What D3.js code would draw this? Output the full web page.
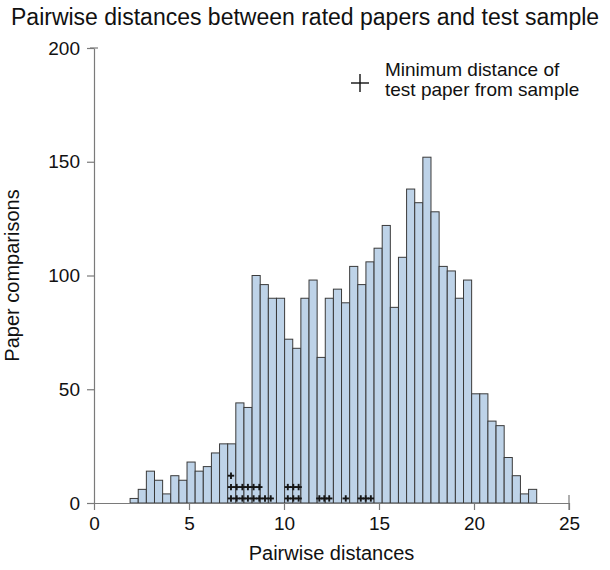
<!DOCTYPE html>
<html>
<head>
<meta charset="utf-8">
<script src="https://cdn.jsdelivr.net/npm/d3@7"></script>
<style>
  body { margin: 0; background: #fff; }
  text { font-family: Helvetica, Arial, "Liberation Sans", sans-serif; fill: #111; }
</style>
</head>
<body>
<svg id="chart" width="610" height="570"></svg>
<script>

// histogram of pairwise distances, 50 bins
const bin_start = 1.9;
const bin_width = 0.428;
const bin_counts = [2,6,14,10,4,12,10,18,14,16,
                    22,26,26,44,42,100,96,90,90,72,
                    68,90,98,64,90,94,88,104,96,106,
                    112,122,86,108,138,132,152,128,104,102,
                    90,98,48,48,36,34,20,12,4,6];

// minimum distance of each test paper, stacked where they coincide
const marker_dist  = [7.21,7.51,7.81,8.1,8.4,8.7,9.0,9.3,10.2,10.49,10.77,11.86,12.12,12.38,13.25,14.04,14.3,14.57];
const marker_stack = [3,2,2,2,2,2,1,1,2,2,2,1,1,1,1,1,1,1];
const stack_levels = [2,7,12];

const x_ticks = [0,5,10,15,20,25];
const y_ticks = [0,50,100,150,200];

const svg = d3.select('#chart');

const x = d3.scaleLinear().domain([0,25]).range([94,569]);
const y = d3.scaleLinear().domain([0,200]).range([503,48]);

const axis_color = '#7a7a7a';

// bars
svg.append('g').selectAll('rect')
        .data(bin_counts)
        .enter()
    .append('rect')
        .attr('x', (d,i) => x(bin_start + i*bin_width))
        .attr('y', d => y(d))
        .attr('width', (d,i) => x(bin_start + (i+1)*bin_width) - x(bin_start + i*bin_width))
        .attr('height', d => y(0) - y(d))
        .attr('fill','#bed3e8')
        .attr('stroke','#3a3a3a')
        .attr('stroke-width',1);

// markers
var marker_data = [];
marker_dist.forEach(function(v,i){
    for(let k=0; k<marker_stack[i]; k++){ marker_data.push([v, stack_levels[k]]); }
});

const cross = function(g, s){
    g.append('line').attr('x1',-s).attr('x2',s).attr('y1',0).attr('y2',0);
    g.append('line').attr('x1',0).attr('x2',0).attr('y1',-s).attr('y2',s);
};

svg.append('g').selectAll('g')
        .data(marker_data)
        .enter()
    .append('g')
        .attr('transform', d => `translate(${x(d[0])},${y(d[1])})`)
        .attr('stroke','#151515')
        .attr('stroke-width',1.9)
        .each(function(){ cross(d3.select(this), 3.2) });

// axes
const xaxis = svg.append('g')
    .attr('transform',`translate(0,${y(0)})`)
    .call(d3.axisBottom(x).tickValues(x_ticks).tickSize(7).tickSizeOuter(0).tickPadding(7));

const yaxis = svg.append('g')
    .attr('transform',`translate(${x(0)},0)`)
    .call(d3.axisLeft(y).tickValues(y_ticks).tickSize(7).tickSizeOuter(0).tickPadding(7));

[xaxis, yaxis].forEach(function(a){
    a.selectAll('path, line').attr('stroke', axis_color).attr('stroke-width',1.2);
    a.selectAll('text').attr('font-size','19px').attr('fill','#111')
        .attr('font-family','Helvetica, Arial, "Liberation Sans", sans-serif');
});

// end caps that straddle the axis line
svg.append('line')
    .attr('x1', x(0)-4).attr('x2', x(0)+4).attr('y1', y(200)).attr('y2', y(200))
    .attr('stroke', axis_color).attr('stroke-width',1.2);
svg.append('line')
    .attr('x1', x(25)).attr('x2', x(25)).attr('y1', y(0)-8).attr('y2', y(0)+7)
    .attr('stroke', axis_color).attr('stroke-width',1.2);

// labels
svg.append('text')
    .attr('x',11).attr('y',25)
    .attr('font-size','23px')
    .text('Pairwise distances between rated papers and test sample');

svg.append('text')
    .attr('x', (x(0)+x(25))/2).attr('y',560)
    .attr('text-anchor','middle')
    .attr('font-size','20px')
    .text('Pairwise distances');

svg.append('text')
    .attr('transform',`translate(19,${(y(0)+y(200))/2}) rotate(-90)`)
    .attr('text-anchor','middle')
    .attr('font-size','20px')
    .text('Paper comparisons');

// legend
const legend = svg.append('g');
legend.append('g')
    .attr('transform','translate(360,83)')
    .attr('stroke','#111')
    .attr('stroke-width',1.4)
    .each(function(){ cross(d3.select(this), 9) });
legend.selectAll('text')
        .data(['Minimum distance of','test paper from sample'])
        .enter()
    .append('text')
        .attr('x',385)
        .attr('y', (d,i) => 76 + i*20)
        .attr('font-size','19px')
        .text(d => d);

</script>
</body>
</html>
